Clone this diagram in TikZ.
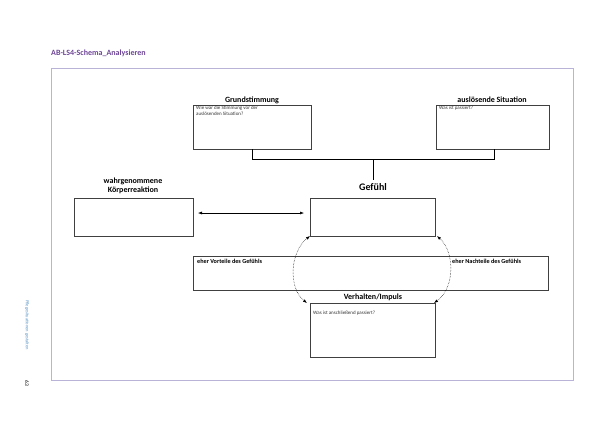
\documentclass[tikz,border=0pt]{standalone}
\usepackage{fontspec}
\setmainfont{Carlito}
\usetikzlibrary{arrows.meta}
\definecolor{frame}{RGB}{185,180,215}
\definecolor{ttl}{RGB}{110,70,150}
\definecolor{side}{RGB}{90,150,200}
\tikzset{
  bx/.style={draw=black!75, line width=0.6pt},
  lbl/.style={font=\fontsize{8}{9}\selectfont\bfseries, inner sep=0pt},
  sm/.style={font=\fontsize{5}{6}\selectfont, inner sep=0pt, anchor=north west, align=left, text=black!80},
  dots/.style={densely dotted, line width=0.5pt, {Latex[length=4pt,width=3pt]}-{Latex[length=4pt,width=3pt]}},
}
\begin{document}
\begin{tikzpicture}[x=1pt,y=-1pt]
\useasboundingbox (0,0) rectangle (600,424);
\fill[white] (0,0) rectangle (600,424);
\draw[frame, line width=0.8pt] (51,68) rectangle (573,380);
\node[anchor=west, text=ttl, font=\fontsize{8}{9}\selectfont\bfseries, inner sep=0pt] (title) at (51,53) {AB-LS4-Schema\_Analysieren};
\node[rotate=-90, text=side, font=\fontsize{4.5}{5}\selectfont, inner sep=0pt] (side) at (27,325) {Pflegesituationen gestalten};
\node[rotate=-90, font=\fontsize{5.5}{6}\selectfont, inner sep=0pt] (page) at (27,383) {63};
\draw[bx] (193,105) rectangle (311,149);
\node[lbl] (gsl) at (252,100) {Grundstimmung};
\node[sm] (gst) at (196,106) {Wie war die Stimmung vor der\\auslösenden Situation?};
\draw[bx] (436,105) rectangle (549,149);
\node[lbl] (asl) at (492,100) {auslösende Situation};
\node[sm] (ast) at (439,106) {Was ist passiert?};
\coordinate (g1) at (252,149); \coordinate (a1) at (494,149);
\coordinate (j) at (373,159); \coordinate (gtop) at (373,180);
\draw[line width=0.6pt] (g1) -- (252,159) -- (494,159) -- (a1);
\draw[line width=0.6pt] (j) -- (gtop);
\node[font=\fontsize{10}{11}\selectfont\bfseries, inner sep=0pt] (gl) at (373,187) {Gefühl};
\draw[bx] (310,198) rectangle (435,236);
\draw[bx] (74,198) rectangle (193,236);
\node[lbl, align=center] (kl) at (133,186) {wahrgenommene\\Körperreaktion};
\coordinate (k) at (198,213); \coordinate (f) at (304,213);
\draw[line width=0.5pt, {Latex[length=4pt,width=3pt]}-{Latex[length=4pt,width=3pt]}] (k) -- (f);
\draw[bx] (193,256) rectangle (548,290);
\node[lbl, anchor=north west, font=\fontsize{6.2}{7}\selectfont\bfseries] (vt) at (197,259) {eher Vorteile des Gefühls};
\node[lbl, anchor=north west, font=\fontsize{6.2}{7}\selectfont\bfseries] (nt) at (452,259) {eher Nachteile des Gefühls};
\draw[bx] (310,303) rectangle (435,357);
\node[lbl] (vl) at (373,297) {Verhalten/Impuls};
\node[sm] (vtt) at (313,311) {Was ist anschließend passiert?};
\coordinate (l1) at (310,236); \coordinate (l2) at (307,303);
\coordinate (r1) at (437,236); \coordinate (r2) at (434,303);
\draw[dots] (l1) .. controls (290,252) and (288,288) .. (l2);
\draw[dots] (r1) .. controls (455,252) and (455,288) .. (r2);
\end{tikzpicture}
\end{document}
